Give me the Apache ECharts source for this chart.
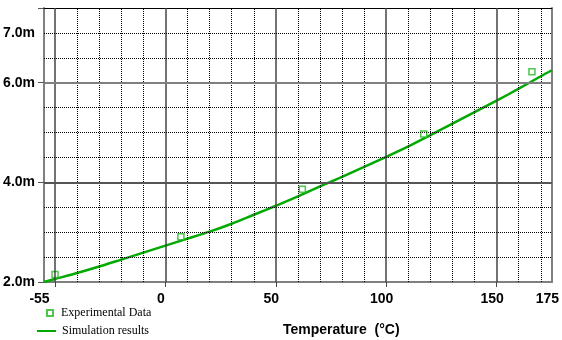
<!DOCTYPE html>
<html>
<head>
<meta charset="utf-8">
<script src="https://cdn.jsdelivr.net/npm/echarts@6/dist/echarts.min.js"></script>
<style>
  html, body { margin: 0; padding: 0; background: #fff; }
  #chart { width: 562px; height: 340px; }
</style>
</head>
<body>
<div id="chart"></div>
<script>
// measured points
const expTemps = [-50, 7, 62, 117, 166];
const expValues = [2.15, 2.91, 3.86, 4.97, 6.22];

// simulated curve
const simTemps = [-55, -50, -40, -30, -20, -10, 0, 10, 20, 30, 40, 50, 60, 70, 80, 90, 100, 110, 120, 130, 140, 150, 160, 170, 175];
const simValues = [2.00, 2.06, 2.18, 2.31, 2.45, 2.59, 2.73, 2.87, 3.01, 3.17, 3.35, 3.53, 3.72, 3.92, 4.11, 4.31, 4.51, 4.72, 4.95, 5.18, 5.41, 5.64, 5.88, 6.13, 6.25];

const xLabels = [-55, 0, 50, 100, 150, 175];
const xMajor = [-50, 0, 50, 100, 150];
const yLabels = [2, 4, 6, 7];

const green = '#00aa00';

// grid lines drawn as mark lines
const gridLines = [];
for (let t = -50; t <= 170; t += 10) {
    if (xMajor.includes(t)) {
        gridLines.push({ xAxis: t, lineStyle: { color: '#444', width: 1.5, type: 'solid' } });
    } else {
        gridLines.push({ xAxis: t, lineStyle: { color: '#000', width: 1, type: [1, 1] } });
    }
}
for (let v = 2.5; v <= 7.0; v += 0.5) {
    if (v === 4) {
        gridLines.push({ yAxis: v, lineStyle: { color: '#555', width: 2, type: 'solid' } });
    } else if (v === 6) {
        gridLines.push({ yAxis: v, lineStyle: { color: '#808080', width: 2, type: 'solid' } });
    } else {
        gridLines.push({ yAxis: v, lineStyle: { color: '#000', width: 1, type: [1, 1] } });
    }
}

const labelFont = { fontFamily: 'Liberation Sans', fontWeight: 'bold', fontSize: 14, color: '#000' };

const option = {
    animation: false,
    grid: { left: 44, right: 10, top: 8, bottom: 58 },
    title: {
        text: 'Temperature  (°C)',
        left: 283,
        top: 323,
        padding: 0,
        textStyle: { fontFamily: 'Liberation Sans', fontWeight: 'bold', fontSize: 14, color: '#000' }
    },
    legend: [
        {
            data: ['Experimental Data'],
            left: 46,
            top: 307,
            padding: 0,
            itemWidth: 6,
            itemHeight: 6,
            selectedMode: false,
            textStyle: { fontFamily: 'Liberation Serif', fontSize: 12, color: '#000', padding: [0, 0, 0, 3] }
        },
        {
            data: [{ name: 'Simulation results', icon: 'rect' }],
            left: 37,
            top: 325,
            padding: 0,
            itemWidth: 19,
            itemHeight: 2,
            selectedMode: false,
            textStyle: { fontFamily: 'Liberation Serif', fontSize: 12, color: '#000', padding: [0, 0, 0, 1] }
        }
    ],
    xAxis: [
        {
            type: 'value',
            min: -55,
            max: 175,
            interval: 5,
            axisLine: { show: true, onZero: false, lineStyle: { color: '#808080', width: 2 } },
            axisTick: { show: true, length: 5, customValues: xMajor, lineStyle: { color: '#444' } },
            axisLabel: {
                customValues: xLabels,
                margin: 10,
                padding: [0, 9, 0, 0],
                ...labelFont
            },
            splitLine: { show: false }
        },
        {
            type: 'value',
            position: 'top',
            min: -55,
            max: 175,
            interval: 5,
            axisLine: { show: true, onZero: false, lineStyle: { color: '#000', width: 1 } },
            axisTick: { show: false },
            axisLabel: { show: false },
            splitLine: { show: false }
        }
    ],
    yAxis: [
        {
            type: 'value',
            min: 2,
            max: 7.5,
            interval: 0.5,
            axisLine: { show: true, onZero: false, lineStyle: { color: '#808080', width: 2 } },
            axisTick: { show: true, length: 6, customValues: [2, 4, 6, 7.5], lineStyle: { color: '#555' } },
            axisLabel: {
                customValues: yLabels,
                margin: 9,
                formatter: v => v.toFixed(1) + 'm',
                ...labelFont
            },
            splitLine: { show: false }
        },
        {
            type: 'value',
            position: 'right',
            min: 2,
            max: 7.5,
            interval: 0.5,
            axisLine: { show: true, onZero: false, lineStyle: { color: '#808080', width: 2 } },
            axisTick: { show: false },
            axisLabel: { show: false },
            splitLine: { show: false }
        }
    ],
    series: [
        {
            name: 'grid',
            type: 'line',
            data: [],
            silent: true,
            z: 1,
            markLine: {
                silent: true,
                symbol: ['none', 'none'],
                label: { show: false },
                animation: false,
                data: gridLines
            }
        },
        {
            name: 'Simulation results',
            type: 'line',
            z: 3,
            smooth: 0.3,
            showSymbol: false,
            symbol: 'none',
            lineStyle: { color: green, width: 2.5 },
            itemStyle: { color: green },
            data: simTemps.map((t, i) => [t, simValues[i]])
        },
        {
            name: 'Experimental Data',
            type: 'scatter',
            z: 4,
            symbol: 'rect',
            symbolSize: 6,
            itemStyle: { color: '#fff', borderColor: '#22b822', borderWidth: 1.5 },
            data: expTemps.map((t, i) => [t, expValues[i]])
        }
    ]
};

const chart = echarts.init(document.getElementById('chart'));
chart.setOption(option);
</script>
</body>
</html>
